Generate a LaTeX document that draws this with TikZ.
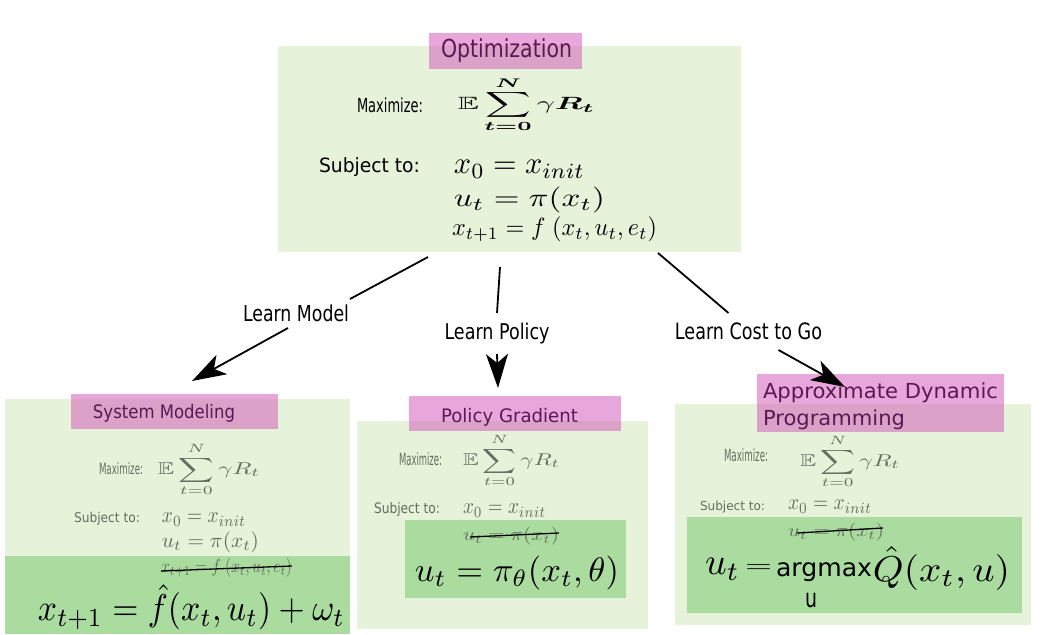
\documentclass[tikz,border=0pt]{standalone}
\usepackage[no-math]{fontspec}
\usepackage{amsmath,amssymb,bm}
\usetikzlibrary{arrows.meta,calc}
\newfontfamily\dv{DejaVu Sans}
\newcommand\fb[3]{\resizebox*{#1pt}{#2pt}{#3}}
\definecolor{lgreen}{RGB}{230,242,218}
\definecolor{dgreen}{RGB}{170,220,160}
\definecolor{pinkc}{RGB}{209,81,185}
\definecolor{ttl}{RGB}{90,25,80}
\definecolor{faded}{RGB}{100,110,95}
\begin{document}
\begin{tikzpicture}[x=1pt,y=-1pt,
 box/.style={rectangle,inner sep=0pt,outer sep=0pt,draw=none},
 lbox/.style={box,fill=lgreen},
 dbox/.style={box,fill=dgreen},
 pbox/.style={box,fill=pinkc,fill opacity=0.5},
 txt/.style={inner sep=0pt,outer sep=0pt},
 ttltxt/.style={txt,text=ttl},
 fdtxt/.style={txt,text=faded},
 lbl/.style={txt,inner xsep=1pt},
 conn/.style={line width=1.8pt},
 arr/.style={conn,-{Stealth[length=34pt,width=22pt,inset=9pt]}},
 strike/.style={line width=1.3pt}]
\useasboundingbox (0,0) rectangle (1043,634);
\fill[white] (0,0) rectangle (1043,634);

% ---------- Optimization ----------
\node[lbox,minimum width=463pt,minimum height=206pt] (opt) at (509.5,149) {};
\node[pbox,minimum width=153pt,minimum height=36pt] (optT) at (505.5,51) {};
\node[ttltxt] (optL) at (506.5,51) {\fb{131}{24}{\dv Optimization}};
\node[txt] (optMaxL) at (390,105.5) {\fb{66}{15}{\dv Maximize:}};
\node[txt] (optMax) at (526.5,104.5) {\fb{137}{55}{$\displaystyle\mathbb{E}\sum_{\bm{t=0}}^{\bm{N}}\gamma\bm{R}_{\bm t}$}};
\node[txt] (optSubL) at (369.5,167.5) {\fb{101}{19}{\dv Subject to:}};
\node[txt] (optC1) at (519.5,169) {\fb{131}{18}{$x_0 = x_{init}$}};
\node[txt] (optC2) at (529.5,200) {\fb{151}{26}{$u_t = \pi(x_t)$}};
\node[txt] (optC3) at (554.5,229.5) {\fb{205}{25}{$x_{t+1} = f\;(x_t,u_t,e_t)$}};

% ---------- System Modeling ----------
\node[lbox,minimum width=345pt,minimum height=235pt] (sm) at (177.5,516.5) {};
\node[dbox,minimum width=345pt,minimum height=78pt] (smD) at (177.5,595) {};
\node[pbox,minimum width=207pt,minimum height=35pt] (smT) at (174.5,411.5) {};
\node[ttltxt] (smL) at (164,413) {\fb{142}{18}{\dv System Modeling}};
\node[fdtxt] (smMaxL) at (121,469) {\fb{44}{12}{\dv Maximize:}};
\node[fdtxt] (smMax) at (209,469.5) {\fb{102}{53}{$\displaystyle\mathbb{E}\sum_{t=0}^{N}\gamma R_t$}};
\node[fdtxt] (smSubL) at (107,518.5) {\fb{66}{13}{\dv Subject to:}};
\node[fdtxt] (smC1) at (204,519.5) {\fb{84}{13}{$x_0 = x_{init}$}};
\node[fdtxt] (smC2) at (210.5,542.5) {\fb{97}{21}{$u_t = \pi(x_t)$}};
\node[fdtxt] (smS) at (226.5,567.5) {\fb{131}{19}{$x_{t+1} = f\;(x_t,u_t,e_t)$}};
\draw[strike] ($(smS.west)+(0,3.5)$) -- ($(smS.east)+(0,-1.5)$);
\node[txt] (smBig) at (191.5,607.5) {\fb{307}{45}{$x_{t+1} = \hat{f}(x_t,u_t)+\omega_t$}};

% ---------- Policy Gradient ----------
\node[lbox,minimum width=291pt,minimum height=208pt] (pg) at (502.5,525) {};
\node[dbox,minimum width=221pt,minimum height=78pt] (pgD) at (515.5,559) {};
\node[pbox,minimum width=212pt,minimum height=35pt] (pgT) at (515,413.5) {};
\node[ttltxt] (pgL) at (509.5,417) {\fb{137}{18}{\dv Policy Gradient}};
\node[fdtxt] (pgMaxL) at (420.5,459.5) {\fb{43}{13}{\dv Maximize:}};
\node[fdtxt] (pgMax) at (511.5,460.5) {\fb{97}{53}{$\displaystyle\mathbb{E}\sum_{t=0}^{N}\gamma R_t$}};
\node[fdtxt] (pgSubL) at (407,510) {\fb{66}{14}{\dv Subject to:}};
\node[fdtxt] (pgC1) at (504.5,510.5) {\fb{83}{13}{$x_0 = x_{init}$}};
\node[fdtxt] (pgS) at (511,536) {\fb{96}{18}{$u_t = \pi(x_t)$}};
\draw[strike] ($(pgS.west)+(7,1)$) -- ($(pgS.east)+(0,-3)$);
\node[txt] (pgBig) at (517,573) {\fb{204}{34}{$u_t = \pi_\theta(x_t,\theta)$}};

% ---------- Approximate Dynamic Programming ----------
\node[lbox,minimum width=356pt,minimum height=221pt] (adp) at (853,514.5) {};
\node[dbox,minimum width=335pt,minimum height=96pt] (adpD) at (854.5,565) {};
\node[pbox,minimum width=247pt,minimum height=58pt] (adpT) at (880.5,403) {};
\node[ttltxt,anchor=west] (adpL1) at (763,393) {\fb{235}{20}{\dv Approximate Dynamic}};
\node[ttltxt,anchor=west] (adpL2) at (763,420) {\fb{142}{20}{\dv Programming}};
\node[fdtxt] (adpMaxL) at (746,455.5) {\fb{44}{13}{\dv Maximize:}};
\node[fdtxt] (adpMax) at (850,461.5) {\fb{100}{53}{$\displaystyle\mathbb{E}\sum_{t=0}^{N}\gamma R_t$}};
\node[fdtxt] (adpSubL) at (732.5,507) {\fb{65}{12}{\dv Subject to:}};
\node[fdtxt] (adpC1) at (830,506.5) {\fb{84}{13}{$x_0 = x_{init}$}};
\node[fdtxt] (adpS) at (836,532) {\fb{96}{18}{$u_t = \pi(x_t)$}};
\draw[strike] ($(adpS.west)+(9,1)$) -- ($(adpS.east)+(-1,-4)$);
\node[txt] (adpU) at (722.5,569) {\fb{35}{22}{$u_t$}};
\node[txt] (adpEq) at (758.5,568) {\fb{27}{8}{$=$}};
\node[txt] (adpArg) at (824,572.5) {\fb{96}{19}{\dv argmax}};
\node[txt] (adpArgU) at (811,600.5) {\fb{12}{15}{\dv u}};
\node[txt] (adpQ) at (941.5,568.5) {\fb{137}{43}{$\hat{Q}(x_t,u)$}};

% ---------- connectors ----------
\coordinate (lmA) at (428,257);
\coordinate (lmB) at (192,381);
\coordinate (lpA) at (500,267);
\coordinate (lpB) at (498,388);
\coordinate (lcA) at (658,253);
\coordinate (lcB) at (845,387);
\node[lbl,inner ysep=6pt] (lm) at (296,313.5) {\fb{106}{17}{\dv Learn Model}};
\node[lbl,inner ysep=10pt] (lp) at (497,333.5) {\fb{105}{21}{\dv Learn Policy}};
\node[lbl,inner ysep=10pt] (lc) at (748.5,331.5) {\fb{147}{17}{\dv Learn Cost to Go}};
\draw[conn] (lmA) -- (lm.north east);
\draw[arr] ($(lm.south)+(-8,0)$) -- (lmB);
\draw[conn] (lpA) -- (lp.north);
\draw[arr] (lp.south) -- (lpB);
\draw[conn] (lcA) -- ($(lc.north)+(-20,0)$);
\draw[arr] ($(lc.south)+(30,0)$) -- (lcB);
\end{tikzpicture}
\end{document}
